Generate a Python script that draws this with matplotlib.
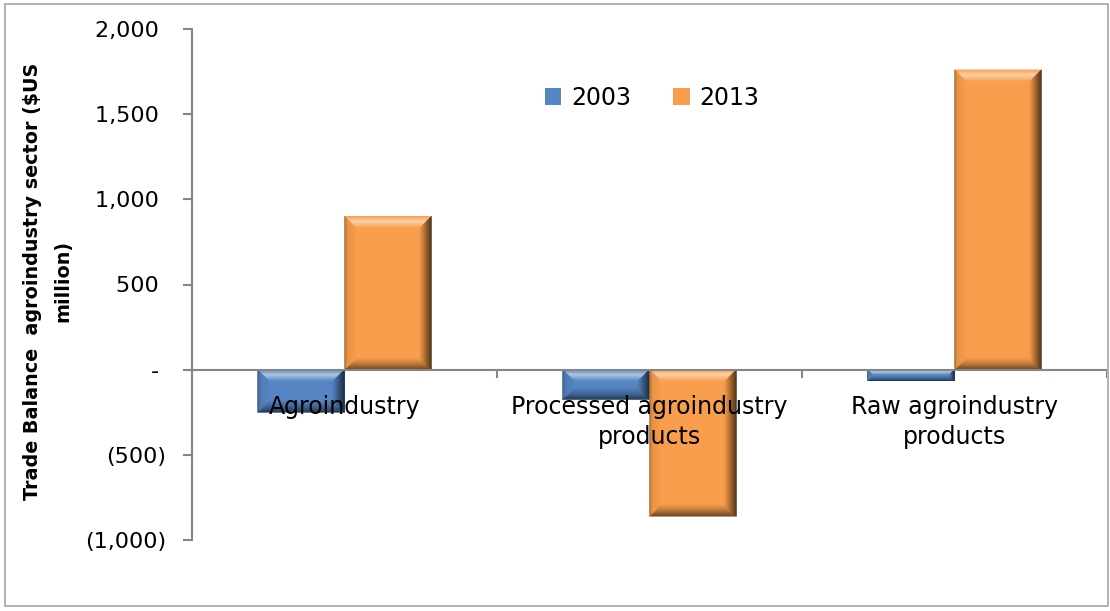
import numpy as np
import matplotlib.pyplot as plt
from matplotlib.patches import Polygon, Rectangle
from matplotlib.colors import to_rgb
from matplotlib.ticker import FuncFormatter

categories = ['Agroindustry', 'Processed agroindustry\nproducts', 'Raw agroindustry\nproducts']
years = ['2003', '2013']
balance_2003 = [-250, -175, -65]
balance_2013 = [900, -860, 1760]
y_ticks = [-1000, -500, 0, 500, 1000, 1500, 2000]

bar_colors = ['#5585C3', '#F99E4C']

# light/dark amount across each bevel edge, from outer rim (0) to inner edge (1)
bevel_profile = {
    'top': [(0, 0.0), (0.45, 0.55), (1, 0.0)],
    'bottom': [(0, -0.6), (0.5, -0.25), (1, 0.0)],
    'left': [(0, -0.35), (0.25, -0.08), (1, 0.0)],
    'right': [(0, -0.72), (0.5, -0.38), (1, -0.02)],
}


def shade(rgb, k):
    rgb = np.array(rgb)
    if k > 0:
        return tuple(rgb + (1 - rgb) * k)
    return tuple(rgb * (1 + k))


def bevel(ax, bar, color, size=12, steps=12):
    to_data = ax.transData.inverted()
    (x0, y0), (x1, y1) = ax.transData.transform(
        [(bar.get_x(), bar.get_y()),
         (bar.get_x() + bar.get_width(), bar.get_y() + bar.get_height())])
    x0, x1 = sorted((x0, x1))
    y0, y1 = sorted((y0, y1))
    b = min(size, (y1 - y0) / 2, (x1 - x0) / 2)
    base = to_rgb(color)
    cuts = np.linspace(0, 1, steps + 1)
    for side, prof in bevel_profile.items():
        s_pts, k_pts = zip(*prof)
        for a, c in zip(cuts[:-1], cuts[1:]):
            k = np.interp((a + c) / 2, s_pts, k_pts)
            ta, tc = a * b, c * b
            if side == 'top':
                pts = [(x0 + ta, y1 - ta), (x1 - ta, y1 - ta), (x1 - tc, y1 - tc), (x0 + tc, y1 - tc)]
            elif side == 'bottom':
                pts = [(x0 + ta, y0 + ta), (x1 - ta, y0 + ta), (x1 - tc, y0 + tc), (x0 + tc, y0 + tc)]
            elif side == 'left':
                pts = [(x0 + ta, y0 + ta), (x0 + ta, y1 - ta), (x0 + tc, y1 - tc), (x0 + tc, y0 + tc)]
            else:
                pts = [(x1 - ta, y0 + ta), (x1 - ta, y1 - ta), (x1 - tc, y1 - tc), (x1 - tc, y0 + tc)]
            fc = shade(base, k)
            ax.add_patch(Polygon(to_data.transform(pts), closed=True, facecolor=fc,
                                 edgecolor=fc, lw=0.4, zorder=3))


def accounting(v, pos):
    if v == 0:
        return '- '
    if v < 0:
        return '({:,.0f})'.format(-v)
    return '{:,.0f} '.format(v)


fig = plt.figure(figsize=(11.1, 6.11), dpi=100)
ax = fig.add_axes([192 / 1110, 71 / 611, 915 / 1110, 511 / 611])

ax.set_xlim(-0.5, 2.5)
ax.set_ylim(-1000, 2000)

x = np.arange(len(categories))
w = 0.285
bars_a = ax.bar(x - w / 2, balance_2003, w, color=bar_colors[0], lw=0, zorder=2, label=years[0])
bars_b = ax.bar(x + w / 2, balance_2013, w, color=bar_colors[1], lw=0, zorder=2, label=years[1])
for bars, col in [(bars_a, bar_colors[0]), (bars_b, bar_colors[1])]:
    for bar in bars:
        bevel(ax, bar, col)

axis_grey = '#868686'
ax.axhline(0, color=axis_grey, lw=1.5, zorder=4)
ax.vlines([0.5, 1.5, 2.5], 0, -50, color=axis_grey, lw=1.5, zorder=4)

for side in ['top', 'right', 'bottom']:
    ax.spines[side].set_visible(False)
ax.spines['left'].set_color(axis_grey)
ax.spines['left'].set_linewidth(1.5)
ax.set_xticks([])
ax.set_yticks(y_ticks)
ax.yaxis.set_major_formatter(FuncFormatter(accounting))
ax.tick_params(axis='y', direction='out', length=6.5, width=1.5, color=axis_grey,
               labelsize=16, pad=12)

for i, cat in enumerate(categories):
    ax.text(i, -150, cat, ha='center', va='top', fontsize=17, linespacing=1.3, zorder=6)

fig.text(48 / 1110, 1 - 281 / 611, 'Trade Balance  agroindustry sector ($US\nmillion)',
         rotation=90, ha='center', va='center', ma='center', fontsize=13.8,
         fontweight='bold', linespacing=1.75)

fig.legend(handles=[bars_a, bars_b], labels=years, loc='center',
           bbox_to_anchor=(652 / 1110, 1 - 98 / 611), ncol=2, frameon=False,
           fontsize=17, handlelength=0.7, handleheight=0.7, handletextpad=0.4,
           columnspacing=1.8)

fig.add_artist(Rectangle((5 / 1110, 5 / 611), 1103 / 1110, 602 / 611,
                         transform=fig.transFigure, fill=False,
                         edgecolor='#A6A6A6', lw=1.2))

fig.savefig('out.png', dpi=100)
